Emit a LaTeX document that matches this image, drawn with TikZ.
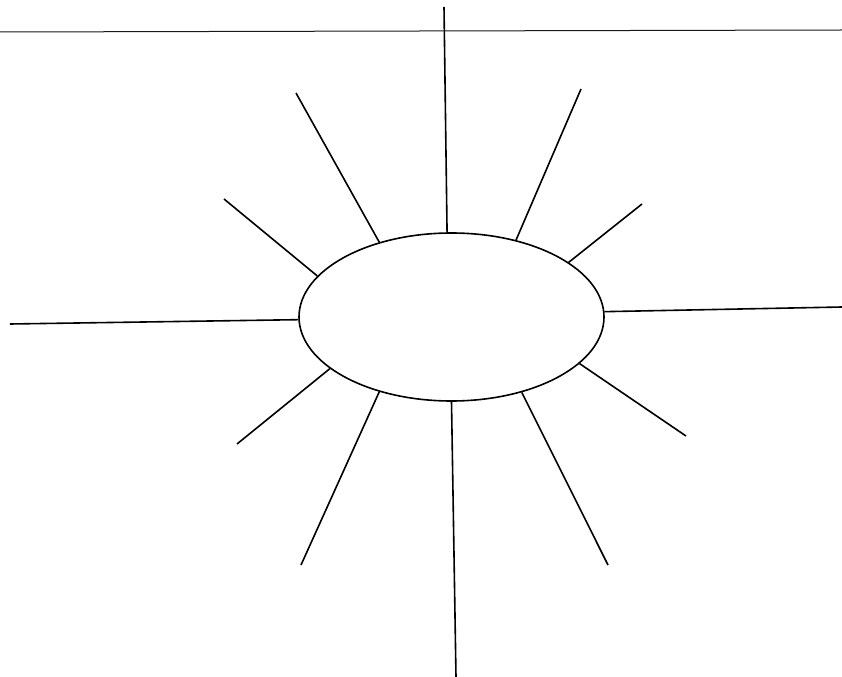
\documentclass[tikz,border=0pt]{standalone}
\usetikzlibrary{shapes.geometric}
\begin{document}
\begin{tikzpicture}[x=0.75pt,y=-0.75pt,
  ray/.style={line width=1.2pt,black},
  rule/.style={line width=0.75pt,black!90},
  sunbox/.style={draw,ellipse,line width=1.2pt,inner sep=0pt,minimum width=228.75pt,minimum height=126pt}]
  \useasboundingbox (0,0) rectangle (842,677);
  \node[sunbox] (sun) at (451.5,317) {};
  % rays: outer end / angle on the ellipse
  \foreach \x/\y/\a [count=\i] in {444/7/93, 296/93/134, 224/199/163, 10/324/181, 237/444/203, 301/565/226, 456/677/270, 608/565/313, 686/436/340, 842/307/2, 642/204/25, 581/89/50}{
    \coordinate (r\i) at (\x,\y);
    \draw[ray] (r\i) -- (sun.\a);
  }
  % top rule
  \coordinate (tl) at (0,32);
  \coordinate (tr) at (842,30);
  \draw[rule] (tl) -- (tr);
\end{tikzpicture}
\end{document}
